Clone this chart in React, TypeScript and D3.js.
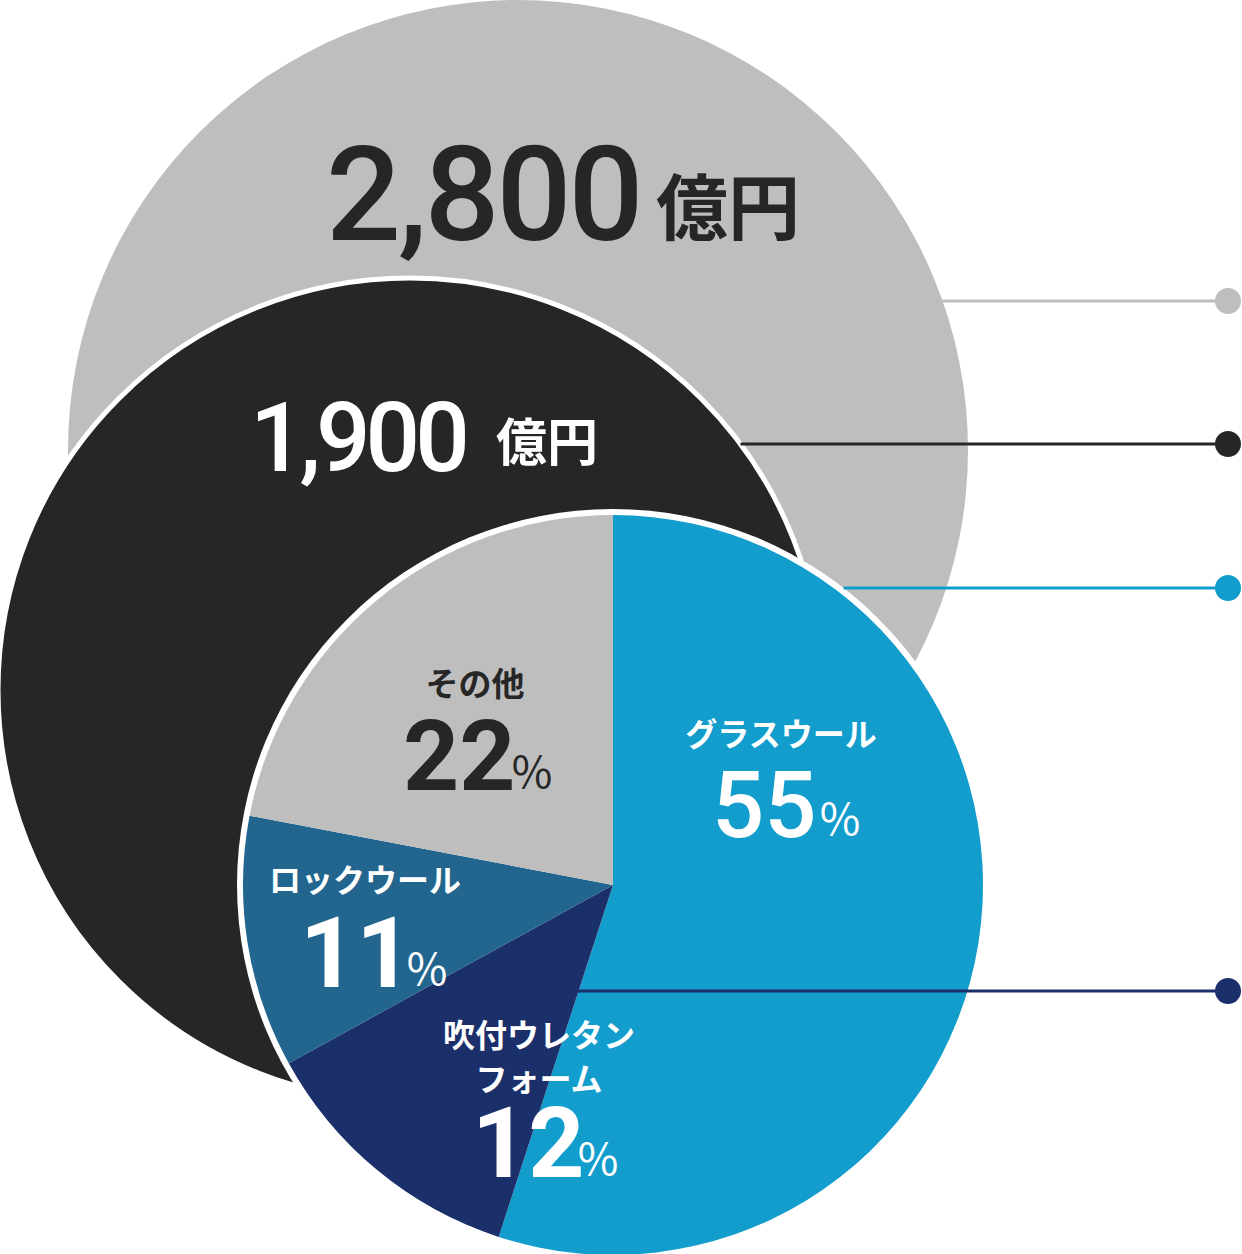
import React from "react";
import * as d3 from "d3";

// ---- data ----
const marketTotals = [2800, 1900];
const marketLabels = ["2,800", "1,900"];
const unitLabel = "億円";
const shareCategories = ["グラスウール", "吹付ウレタンフォーム", "ロックウール", "その他"];
const shareValues = [55, 12, 11, 22];
const shareColors = ["#129DCD", "#1B2F6A", "#22668F", "#BEBEBE"];
const circleColors = ["#BEBEBE", "#262626"];

// ---- layout ----
const W = 1242;
const H = 1254;
const bigCircle = { cx: 518, cy: 450, r: 450 };
const midCircle = { cx: 410, cy: 690, r: 412 };
const pieC = { cx: 613, cy: 885, r: 370 };
const dotX = 1228;

const NUM_FONT = "Roboto, 'Liberation Sans', sans-serif";
const JP_FONT = "'Noto Sans CJK JP', 'Noto Sans', sans-serif";

type LabelPos = { nameLines: string[]; nx: number; ny: number[]; nameSize: number; vx: number; vy: number; vSize: number; px: number; color: string; weight: number };

const labelLayout: LabelPos[] = [
  { nameLines: ["グラスウール"], nx: 781, ny: [746], nameSize: 32, vx: 712, vy: 837, vSize: 92, px: 821, color: "#fff", weight: 500 },
  { nameLines: ["吹付ウレタン", "フォーム"], nx: 539, ny: [1047, 1091], nameSize: 32, vx: 472, vy: 1177, vSize: 98, px: 579, color: "#fff", weight: 700 },
  { nameLines: ["ロックウール"], nx: 365, ny: [892], nameSize: 32, vx: 300, vy: 987, vSize: 98, px: 408, color: "#fff", weight: 700 },
  { nameLines: ["その他"], nx: 475, ny: [696], nameSize: 33, vx: 403, vy: 790, vSize: 98, px: 513, color: "#262626", weight: 700 },
];

const leaderLines = [
  { y: 301, color: "#BEBEBE" },
  { y: 444, color: "#262626" },
  { y: 588, color: "#129DCD" },
  { y: 991, color: "#1B2F6A" },
];

function edgeX(c: { cx: number; cy: number; r: number }, y: number) {
  const dy = y - c.cy;
  return c.cx + Math.sqrt(Math.max(0, c.r * c.r - dy * dy));
}

export default function App() {
  const pie = d3.pie<number>().sort(null).value((d) => d)(shareValues);
  const arc = d3.arc<d3.PieArcDatum<number>>().innerRadius(0).outerRadius(pieC.r);

  const startX = [
    edgeX(bigCircle, leaderLines[0].y),
    edgeX(midCircle, leaderLines[1].y),
    edgeX({ ...pieC, r: pieC.r + 6 }, leaderLines[2].y),
    575,
  ];

  return (
    <svg width={W} height={H} style={{ position: "absolute", left: 0, top: 0 }}>
      <circle cx={bigCircle.cx} cy={bigCircle.cy} r={bigCircle.r} fill={circleColors[0]} />
      <circle cx={midCircle.cx} cy={midCircle.cy} r={midCircle.r} fill={circleColors[1]} stroke="#fff" strokeWidth={5} />

      {/* total labels */}
      <text x={326} y={240} fontFamily={NUM_FONT} fontWeight={500} fontSize={132} letterSpacing={-3} fill="#262626">
        {marketLabels[0]}
      </text>
      <text x={656} y={234} fontFamily={JP_FONT} fontWeight={700} fontSize={72} fill="#262626">
        {unitLabel}
      </text>
      <text x={250} y={471} fontFamily={NUM_FONT} fontWeight={500} fontSize={96} letterSpacing={-5} fill="#fff">
        {marketLabels[1]}
      </text>
      <text x={496} y={461} fontFamily={JP_FONT} fontWeight={700} fontSize={51} fill="#fff">
        {unitLabel}
      </text>

      {/* pie */}
      <circle cx={pieC.cx} cy={pieC.cy} r={pieC.r + 6} fill="#fff" />
      <g transform={`translate(${pieC.cx},${pieC.cy})`}>
        {pie.map((d, i) => (
          <path key={i} d={arc(d) || ""} fill={shareColors[i]} />
        ))}
      </g>

      {/* leader lines */}
      {leaderLines.map((l, i) => (
        <g key={i}>
          <line x1={startX[i]} x2={dotX} y1={l.y} y2={l.y} stroke={l.color} strokeWidth={3} />
          <circle cx={dotX} cy={l.y} r={13} fill={l.color} />
        </g>
      ))}

      {/* slice labels */}
      {labelLayout.map((p, i) => (
        <g key={i} fill={p.color}>
          {p.nameLines.map((ln, j) => (
            <text key={j} x={p.nx} y={p.ny[j]} textAnchor="middle" fontFamily={JP_FONT} fontWeight={700} fontSize={p.nameSize}>
              {ln}
            </text>
          ))}
          <text x={p.vx} y={p.vy} fontFamily={NUM_FONT} fontWeight={p.weight} fontSize={p.vSize} letterSpacing={0}>
            {String(shareValues[i])}
          </text>
          <text x={p.px - 3} y={p.vy - 1} fontFamily={JP_FONT} fontWeight={400} fontSize={44}>
            ％
          </text>
        </g>
      ))}
    </svg>
  );
}
